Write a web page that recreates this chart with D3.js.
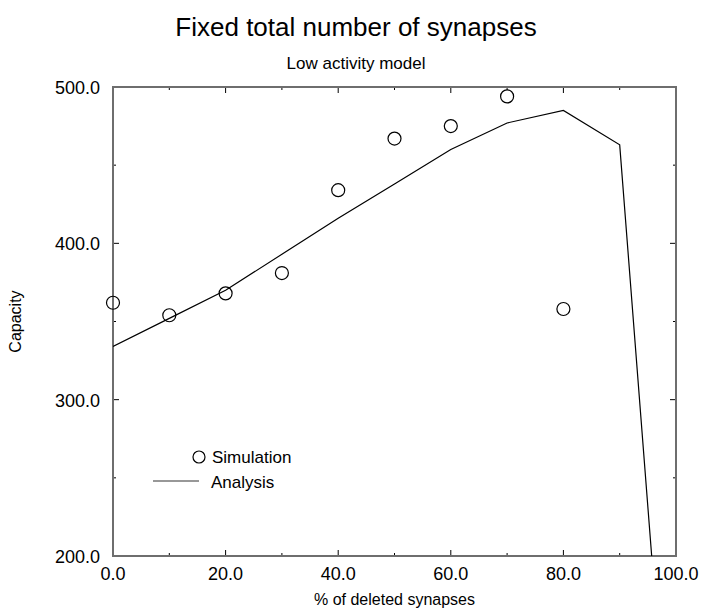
<!DOCTYPE html>
<html>
<head>
<meta charset="utf-8">
<script src="https://cdn.jsdelivr.net/npm/d3@7"></script>
<style>
  body { margin: 0; background: #fff; }
  text { font-family: "Liberation Sans", Arial, Helvetica, sans-serif; fill: #000; }
</style>
</head>
<body>
<svg id="chart" width="702" height="609"></svg>
<script>
const margin = {top: 87, right: 26, bottom: 53, left: 113};
const W = 702, H = 609;

// values
const deleted = [0, 10, 20, 30, 40, 50, 60, 70, 80];
const simulation = [362, 354, 368, 381, 434, 467, 475, 494, 358];
const analysisX = [0, 10, 20, 30, 40, 50, 60, 70, 80, 90, 100];
const analysis = [334, 352, 370, 393, 416, 438, 460, 477, 485, 463, 0];
const xTicks = [0, 20, 40, 60, 80, 100];
const yTicks = [200, 300, 400, 500];

const width = W - margin.left - margin.right;
const height = H - margin.top - margin.bottom;

const svg = d3.select('#chart');

const x = d3.scaleLinear().domain([0, 100]).range([0, width]);
const y = d3.scaleLinear().domain([200, 500]).range([height, 0]);

// titles
svg.append('text').attr('x', 356).attr('y', 36)
  .attr('text-anchor', 'middle').style('font-size', '26px')
  .text('Fixed total number of synapses');
svg.append('text').attr('x', 356).attr('y', 69)
  .attr('text-anchor', 'middle').style('font-size', '17px')
  .text('Low activity model');

const chart = svg.append('g')
  .attr('transform', 'translate(' + margin.left + ',' + margin.top + ')');

// clip for the analysis line
chart.append('clipPath').attr('id', 'clip')
  .append('rect').attr('width', width).attr('height', height);

// ticks, mirrored on all four sides, pointing inward
const xMinor = d3.range(0, 101, 10);
const yMinor = d3.range(200, 501, 50);
const tickG = chart.append('g').attr('stroke', '#000').attr('stroke-width', 1);
xMinor.forEach(v => {
  const len = xTicks.includes(v) ? 6 : 3;
  tickG.append('line').attr('x1', x(v)).attr('x2', x(v)).attr('y1', height).attr('y2', height - len);
  tickG.append('line').attr('x1', x(v)).attr('x2', x(v)).attr('y1', 0).attr('y2', len);
});
yMinor.forEach(v => {
  const len = yTicks.includes(v) ? 6 : 3;
  tickG.append('line').attr('y1', y(v)).attr('y2', y(v)).attr('x1', 0).attr('x2', len);
  tickG.append('line').attr('y1', y(v)).attr('y2', y(v)).attr('x1', width).attr('x2', width - len);
});

// frame
chart.append('rect').attr('width', width).attr('height', height)
  .attr('fill', 'none').attr('stroke', '#6e6e6e').attr('stroke-width', 2);

// tick labels
chart.selectAll('.xl').data(xTicks).enter().append('text')
  .attr('x', d => x(d)).attr('y', height + 24)
  .attr('text-anchor', 'middle').style('font-size', '18px')
  .text(d => d3.format('.1f')(d));
chart.selectAll('.yl').data(yTicks).enter().append('text')
  .attr('x', -13).attr('y', d => y(d) + 7)
  .attr('text-anchor', 'end').style('font-size', '18px')
  .text(d => d3.format('.1f')(d));

// axis titles
svg.append('text').attr('x', margin.left + width / 2).attr('y', 605)
  .attr('text-anchor', 'middle').style('font-size', '16px')
  .text('% of deleted synapses');
svg.append('text')
  .attr('transform', 'translate(21,' + (margin.top + height / 2) + ') rotate(-90)')
  .attr('text-anchor', 'middle').style('font-size', '16px')
  .text('Capacity');

// analysis line
const line = d3.line().x((d, i) => x(analysisX[i])).y(d => y(d));
chart.append('path').datum(analysis)
  .attr('clip-path', 'url(#clip)')
  .attr('fill', 'none').attr('stroke', '#000').attr('stroke-width', 1.2)
  .attr('d', line);

// simulation points
chart.selectAll('.pt').data(simulation).enter().append('circle')
  .attr('cx', (d, i) => x(deleted[i])).attr('cy', d => y(d)).attr('r', 6.5)
  .attr('fill', 'none').attr('stroke', '#000').attr('stroke-width', 1.2);

// legend
const lg = chart.append('g').attr('transform', 'translate(40,370)');
lg.append('circle').attr('cx', 46).attr('cy', 0).attr('r', 6)
  .attr('fill', 'none').attr('stroke', '#000').attr('stroke-width', 1.2);
lg.append('text').attr('x', 59).attr('y', 6).style('font-size', '17px').text('Simulation');
lg.append('line').attr('x1', 0).attr('x2', 46).attr('y1', 24).attr('y2', 24)
  .attr('stroke', '#333').attr('stroke-width', 1.2);
lg.append('text').attr('x', 58).attr('y', 31).style('font-size', '17px').text('Analysis');
</script>
</body>
</html>
